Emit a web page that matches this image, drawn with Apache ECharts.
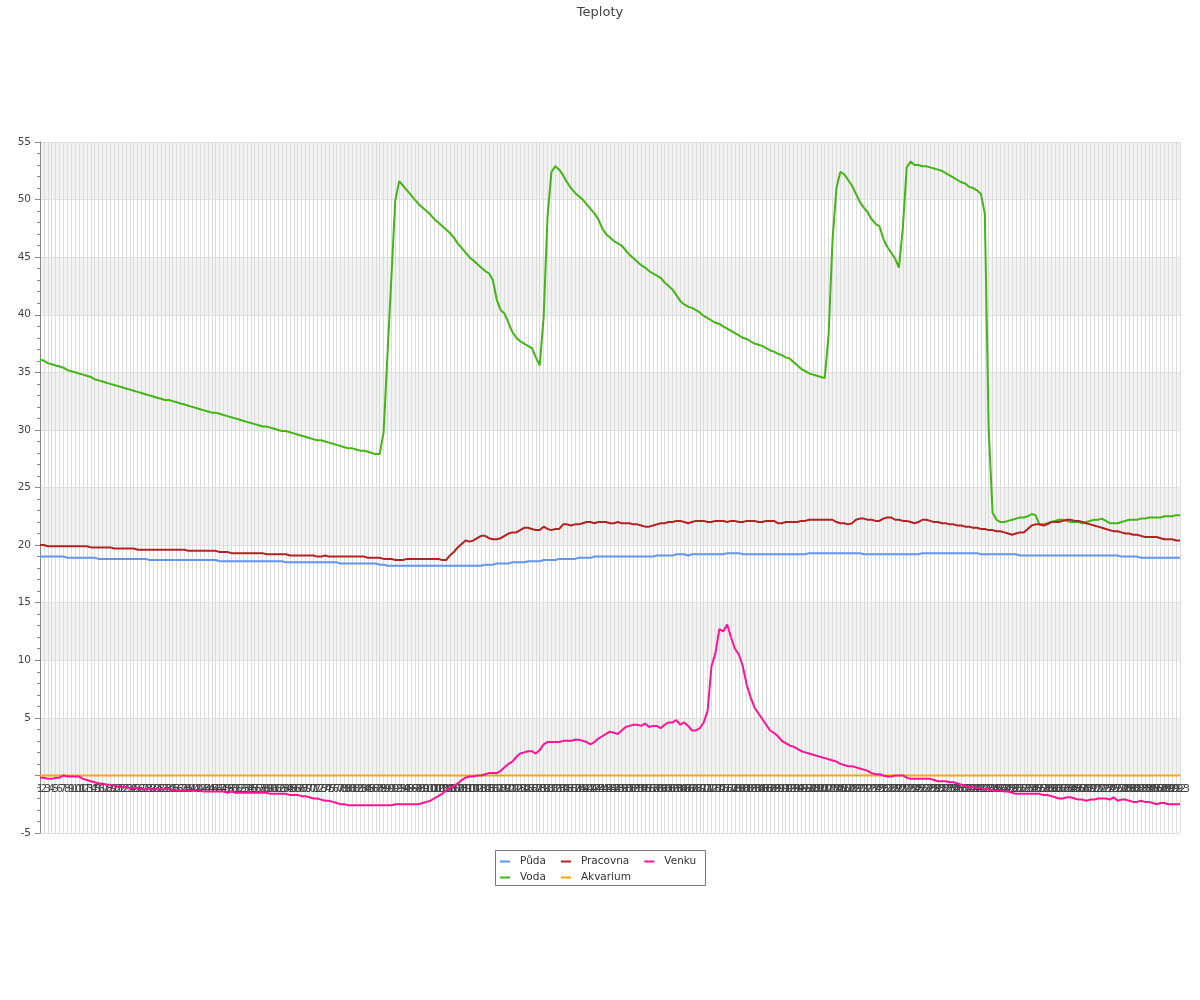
<!DOCTYPE html>
<html>
<head>
<meta charset="utf-8">
<script src="https://cdn.jsdelivr.net/npm/echarts@6/dist/echarts.min.js"></script>
<style>html,body{margin:0;padding:0;background:#fff}#c{width:1200px;height:1000px}</style>
</head>
<body>
<div id="c"></div>
<script>
const pudaValues = [
19.0,19.0,19.0,19.0,19.0,19.0,19.0,18.9,18.9,18.9,
18.9,18.9,18.9,18.9,18.9,18.8,18.8,18.8,18.8,18.8,
18.8,18.8,18.8,18.8,18.8,18.8,18.8,18.8,18.7,18.7,
18.7,18.7,18.7,18.7,18.7,18.7,18.7,18.7,18.7,18.7,
18.7,18.7,18.7,18.7,18.7,18.7,18.6,18.6,18.6,18.6,
18.6,18.6,18.6,18.6,18.6,18.6,18.6,18.6,18.6,18.6,
18.6,18.6,18.6,18.5,18.5,18.5,18.5,18.5,18.5,18.5,
18.5,18.5,18.5,18.5,18.5,18.5,18.5,18.4,18.4,18.4,
18.4,18.4,18.4,18.4,18.4,18.4,18.4,18.3,18.3,18.2,
18.2,18.2,18.2,18.2,18.2,18.2,18.2,18.2,18.2,18.2,
18.2,18.2,18.2,18.2,18.2,18.2,18.2,18.2,18.2,18.2,
18.2,18.2,18.2,18.2,18.3,18.3,18.3,18.4,18.4,18.4,
18.4,18.5,18.5,18.5,18.5,18.6,18.6,18.6,18.6,18.7,
18.7,18.7,18.7,18.8,18.8,18.8,18.8,18.8,18.9,18.9,
18.9,18.9,19.0,19.0,19.0,19.0,19.0,19.0,19.0,19.0,
19.0,19.0,19.0,19.0,19.0,19.0,19.0,19.0,19.1,19.1,
19.1,19.1,19.1,19.2,19.2,19.2,19.1,19.2,19.2,19.2,
19.2,19.2,19.2,19.2,19.2,19.2,19.3,19.3,19.3,19.3,
19.2,19.2,19.2,19.2,19.2,19.2,19.2,19.2,19.2,19.2,
19.2,19.2,19.2,19.2,19.2,19.2,19.2,19.3,19.3,19.3,
19.3,19.3,19.3,19.3,19.3,19.3,19.3,19.3,19.3,19.3,
19.3,19.2,19.2,19.2,19.2,19.2,19.2,19.2,19.2,19.2,
19.2,19.2,19.2,19.2,19.2,19.2,19.3,19.3,19.3,19.3,
19.3,19.3,19.3,19.3,19.3,19.3,19.3,19.3,19.3,19.3,
19.3,19.2,19.2,19.2,19.2,19.2,19.2,19.2,19.2,19.2,
19.2,19.1,19.1,19.1,19.1,19.1,19.1,19.1,19.1,19.1,
19.1,19.1,19.1,19.1,19.1,19.1,19.1,19.1,19.1,19.1,
19.1,19.1,19.1,19.1,19.1,19.1,19.1,19.0,19.0,19.0,
19.0,19.0,18.9,18.9,18.9,18.9,18.9,18.9,18.9,18.9,
18.9,18.9,18.9
];
const vodaValues = [
36.1,36.0,35.8,35.7,35.6,35.5,35.4,35.2,35.1,35.0,
34.9,34.8,34.7,34.6,34.4,34.3,34.2,34.1,34.0,33.9,
33.8,33.7,33.6,33.5,33.4,33.3,33.2,33.1,33.0,32.9,
32.8,32.7,32.6,32.6,32.5,32.4,32.3,32.2,32.1,32.0,
31.9,31.8,31.7,31.6,31.5,31.5,31.4,31.3,31.2,31.1,
31.0,30.9,30.8,30.7,30.6,30.5,30.4,30.3,30.3,30.2,
30.1,30.0,29.9,29.9,29.8,29.7,29.6,29.5,29.4,29.3,
29.2,29.1,29.1,29.0,28.9,28.8,28.7,28.6,28.5,28.4,
28.4,28.3,28.2,28.2,28.1,28.0,27.9,27.9,29.8,36.5,
43.2,49.9,51.6,51.2,50.8,50.4,50.0,49.6,49.3,49.0,
48.7,48.3,48.0,47.7,47.4,47.1,46.7,46.2,45.8,45.4,
45.0,44.7,44.4,44.1,43.8,43.6,43.0,41.3,40.4,40.1,
39.3,38.5,38.0,37.7,37.5,37.3,37.1,36.3,35.6,39.8,
48.5,52.4,52.9,52.6,52.1,51.5,51.0,50.6,50.3,50.0,
49.6,49.2,48.8,48.3,47.5,47.0,46.7,46.4,46.2,46.0,
45.6,45.2,44.9,44.6,44.3,44.1,43.8,43.6,43.4,43.2,
42.8,42.5,42.2,41.7,41.2,40.9,40.7,40.6,40.4,40.2,
39.9,39.7,39.5,39.3,39.2,39.0,38.8,38.6,38.4,38.2,
38.0,37.9,37.7,37.5,37.4,37.3,37.1,36.9,36.8,36.6,
36.5,36.3,36.2,35.9,35.6,35.3,35.1,34.9,34.8,34.7,
34.6,34.5,38.3,46.5,51.0,52.4,52.2,51.7,51.2,50.5,
49.8,49.3,48.9,48.3,47.9,47.7,46.6,45.9,45.4,44.9,
44.1,47.5,52.8,53.3,53.0,53.0,52.9,52.9,52.8,52.7,
52.6,52.5,52.3,52.1,51.9,51.7,51.5,51.4,51.1,51.0,
50.8,50.5,48.8,30.0,22.8,22.2,22.0,22.0,22.1,22.2,
22.3,22.4,22.4,22.5,22.7,22.6,21.8,21.8,21.9,22.0,
22.1,22.2,22.2,22.1,22.0,22.0,22.0,21.9,22.0,22.1,
22.2,22.2,22.3,22.1,21.9,21.9,21.9,22.0,22.1,22.2,
22.2,22.2,22.3,22.3,22.4,22.4,22.4,22.4,22.5,22.5,
22.5,22.6,22.6
];
const pracovnaValues = [
20.0,20.0,19.9,19.9,19.9,19.9,19.9,19.9,19.9,19.9,
19.9,19.9,19.9,19.8,19.8,19.8,19.8,19.8,19.8,19.7,
19.7,19.7,19.7,19.7,19.7,19.6,19.6,19.6,19.6,19.6,
19.6,19.6,19.6,19.6,19.6,19.6,19.6,19.6,19.5,19.5,
19.5,19.5,19.5,19.5,19.5,19.5,19.4,19.4,19.4,19.3,
19.3,19.3,19.3,19.3,19.3,19.3,19.3,19.3,19.2,19.2,
19.2,19.2,19.2,19.2,19.1,19.1,19.1,19.1,19.1,19.1,
19.1,19.0,19.0,19.1,19.0,19.0,19.0,19.0,19.0,19.0,
19.0,19.0,19.0,19.0,18.9,18.9,18.9,18.9,18.8,18.8,
18.8,18.7,18.7,18.7,18.8,18.8,18.8,18.8,18.8,18.8,
18.8,18.8,18.8,18.7,18.7,19.1,19.4,19.8,20.1,20.4,
20.3,20.4,20.6,20.8,20.8,20.6,20.5,20.5,20.6,20.8,
21.0,21.1,21.1,21.3,21.5,21.5,21.4,21.3,21.3,21.6,
21.4,21.3,21.4,21.4,21.8,21.8,21.7,21.8,21.8,21.9,
22.0,22.0,21.9,22.0,22.0,22.0,21.9,21.9,22.0,21.9,
21.9,21.9,21.8,21.8,21.7,21.6,21.6,21.7,21.8,21.9,
21.9,22.0,22.0,22.1,22.1,22.0,21.9,22.0,22.1,22.1,
22.1,22.0,22.0,22.1,22.1,22.1,22.0,22.1,22.1,22.0,
22.0,22.1,22.1,22.1,22.0,22.0,22.1,22.1,22.1,21.9,
21.9,22.0,22.0,22.0,22.0,22.1,22.1,22.2,22.2,22.2,
22.2,22.2,22.2,22.2,22.0,21.9,21.9,21.8,21.9,22.2,
22.3,22.3,22.2,22.2,22.1,22.1,22.3,22.4,22.4,22.2,
22.2,22.1,22.1,22.0,21.9,22.0,22.2,22.2,22.1,22.0,
22.0,21.9,21.9,21.8,21.8,21.7,21.7,21.6,21.6,21.5,
21.5,21.4,21.4,21.3,21.3,21.2,21.2,21.1,21.0,20.9,
21.0,21.1,21.1,21.4,21.7,21.8,21.8,21.7,21.8,22.0,
22.0,22.0,22.1,22.2,22.2,22.1,22.1,22.0,21.9,21.8,
21.7,21.6,21.5,21.4,21.3,21.2,21.2,21.1,21.0,21.0,
20.9,20.9,20.8,20.7,20.7,20.7,20.7,20.6,20.5,20.5,
20.5,20.4,20.4
];
const akvariumValues = [
0,0,0,0,0,0,0,0,0,0, 0,0,0,0,0,0,0,0,0,0, 0,0,0,0,0,0,0,0,0,0,
0,0,0,0,0,0,0,0,0,0, 0,0,0,0,0,0,0,0,0,0, 0,0,0,0,0,0,0,0,0,0,
0,0,0,0,0,0,0,0,0,0, 0,0,0,0,0,0,0,0,0,0, 0,0,0,0,0,0,0,0,0,0,
0,0,0,0,0,0,0,0,0,0, 0,0,0,0,0,0,0,0,0,0, 0,0,0,0,0,0,0,0,0,0,
0,0,0,0,0,0,0,0,0,0, 0,0,0,0,0,0,0,0,0,0, 0,0,0,0,0,0,0,0,0,0,
0,0,0,0,0,0,0,0,0,0, 0,0,0,0,0,0,0,0,0,0, 0,0,0,0,0,0,0,0,0,0,
0,0,0,0,0,0,0,0,0,0, 0,0,0,0,0,0,0,0,0,0, 0,0,0,0,0,0,0,0,0,0,
0,0,0,0,0,0,0,0,0,0, 0,0,0,0,0,0,0,0,0,0, 0,0,0,0,0,0,0,0,0,0,
0,0,0,0,0,0,0,0,0,0, 0,0,0,0,0,0,0,0,0,0, 0,0,0,0,0,0,0,0,0,0,
0,0,0,0,0,0,0,0,0,0, 0,0,0,0,0,0,0,0,0,0, 0,0,0
];
const venkuValues = [
-0.2,-0.2,-0.3,-0.3,-0.2,-0.2,0.0,-0.1,-0.1,-0.1,
-0.1,-0.3,-0.4,-0.5,-0.6,-0.7,-0.7,-0.8,-0.8,-0.9,
-1.0,-1.0,-1.0,-1.1,-1.1,-1.1,-1.2,-1.2,-1.2,-1.2,
-1.2,-1.2,-1.2,-1.2,-1.3,-1.3,-1.3,-1.3,-1.3,-1.3,
-1.3,-1.3,-1.4,-1.4,-1.4,-1.4,-1.4,-1.4,-1.5,-1.4,
-1.5,-1.5,-1.5,-1.5,-1.5,-1.5,-1.5,-1.5,-1.5,-1.6,
-1.6,-1.6,-1.6,-1.6,-1.7,-1.7,-1.7,-1.8,-1.8,-1.9,
-2.0,-2.0,-2.1,-2.2,-2.2,-2.3,-2.4,-2.5,-2.5,-2.6,
-2.6,-2.6,-2.6,-2.6,-2.6,-2.6,-2.6,-2.6,-2.6,-2.6,
-2.6,-2.5,-2.5,-2.5,-2.5,-2.5,-2.5,-2.5,-2.4,-2.3,
-2.2,-2.0,-1.8,-1.6,-1.3,-1.1,-0.9,-0.7,-0.4,-0.2,
-0.1,-0.1,0.0,0.0,0.1,0.2,0.2,0.2,0.4,0.7,
1.0,1.2,1.6,1.9,2.0,2.1,2.1,1.9,2.2,2.7,
2.9,2.9,2.9,2.9,3.0,3.0,3.0,3.1,3.1,3.0,
2.9,2.7,2.9,3.2,3.4,3.6,3.8,3.7,3.6,3.9,
4.2,4.3,4.4,4.4,4.3,4.5,4.2,4.3,4.3,4.1,
4.4,4.6,4.6,4.8,4.4,4.6,4.3,3.9,3.9,4.1,
4.6,5.6,9.5,10.6,12.7,12.5,13.1,12.0,11.0,10.5,
9.5,7.9,6.8,5.9,5.4,4.9,4.4,3.9,3.7,3.4,
3.0,2.8,2.6,2.5,2.3,2.1,2.0,1.9,1.8,1.7,
1.6,1.5,1.4,1.3,1.2,1.0,0.9,0.8,0.8,0.7,
0.6,0.5,0.4,0.2,0.1,0.1,0.0,-0.1,-0.1,0.0,
0.0,0.0,-0.2,-0.3,-0.3,-0.3,-0.3,-0.3,-0.3,-0.4,
-0.5,-0.5,-0.5,-0.6,-0.6,-0.7,-0.8,-0.9,-1.0,-1.0,
-1.1,-1.1,-1.2,-1.2,-1.3,-1.3,-1.3,-1.4,-1.4,-1.5,
-1.6,-1.6,-1.6,-1.6,-1.6,-1.6,-1.6,-1.7,-1.7,-1.8,
-1.9,-2.0,-2.0,-1.9,-1.9,-2.0,-2.1,-2.1,-2.2,-2.1,
-2.1,-2.0,-2.0,-2.0,-2.1,-1.9,-2.2,-2.1,-2.1,-2.2,
-2.3,-2.3,-2.2,-2.3,-2.3,-2.4,-2.5,-2.4,-2.4,-2.5,
-2.5,-2.5,-2.5
];
const categories = vodaValues.map((v, i) => String(i + 1));
const yTicks = { min: -5, max: 55, step: 5 };
const legendRow1 = ['Půda', 'Pracovna', 'Venku'];
const legendRow2 = ['Voda', 'Akvarium'];

const FONT = 'DejaVu Sans';
const GRID_TOP = 142, GRID_BOTTOM = 167;
const chartEl = document.getElementById('c');
const chart = echarts.init(chartEl, null, { renderer: 'canvas' });
const plotH = 1000 - GRID_TOP - GRID_BOTTOM;
// shift the category axis up to the zero line of the value axis
const zeroOffset = -plotH * (0 - yTicks.min) / (yTicks.max - yTicks.min);
const legendCommon = {
  left: 500, padding: 0, itemGap: 15, itemWidth: 10, itemHeight: 2, icon: 'rect',
  textStyle: { fontFamily: FONT, fontSize: 10.5, color: '#333', padding: [0, 0, 0, 5] }
};
chart.setOption({
  animation: false,
  backgroundColor: '#fff',
  title: {
    text: 'Teploty', left: 'center', top: 1,
    textStyle: { fontFamily: FONT, fontSize: 13, fontWeight: 'normal', color: '#444' }
  },
  graphic: [{
    type: 'rect', z: -1,
    shape: { x: 495.5, y: 850.5, width: 210, height: 35 },
    style: { fill: '#fff', stroke: '#777', lineWidth: 1 }
  }],
  legend: [
    Object.assign({ top: 856, data: legendRow1 }, legendCommon),
    Object.assign({ top: 872, data: legendRow2 }, legendCommon)
  ],
  grid: { left: 40, right: 20, top: GRID_TOP, bottom: GRID_BOTTOM, containLabel: false },
  xAxis: {
    type: 'category', data: categories, boundaryGap: false,
    offset: zeroOffset,
    axisLine: { onZero: false, lineStyle: { color: '#888' } },
    axisTick: { show: false },
    axisLabel: { interval: 0, fontFamily: FONT, fontSize: 10.5, color: '#444', margin: 8 },
    splitLine: { show: true, interval: 0, lineStyle: { color: '#dcdcdc', width: 1 } }
  },
  yAxis: {
    type: 'value', min: yTicks.min, max: yTicks.max, interval: yTicks.step,
    axisLine: { show: true, lineStyle: { color: '#888' } },
    axisTick: { show: true, length: 5, lineStyle: { color: '#888' } },
    minorTick: { show: true, splitNumber: 5, length: 3, lineStyle: { color: '#888' } },
    axisLabel: {
      fontFamily: FONT, fontSize: 10.5, color: '#444', margin: 9,
      formatter: v => (v === 0 ? '' : String(v))
    },
    splitLine: { show: true, lineStyle: { color: '#e0e0e0' } },
    splitArea: { show: true, areaStyle: { color: ['#ffffff', '#f2f2f2'] } }
  },
  series: [
    { name: 'Půda', type: 'line', data: pudaValues, showSymbol: false, symbol: 'none', color: '#6495ED', lineStyle: { width: 2 } },
    { name: 'Voda', type: 'line', data: vodaValues, showSymbol: false, symbol: 'none', color: '#44B515', lineStyle: { width: 2 } },
    { name: 'Pracovna', type: 'line', data: pracovnaValues, showSymbol: false, symbol: 'none', color: '#B22222', lineStyle: { width: 2 } },
    { name: 'Akvarium', type: 'line', data: akvariumValues, showSymbol: false, symbol: 'none', color: '#FFA500', lineStyle: { width: 2 } },
    { name: 'Venku', type: 'line', data: venkuValues, showSymbol: false, symbol: 'none', color: '#FF1493', lineStyle: { width: 2 } }
  ]
});
</script>
</body>
</html>
